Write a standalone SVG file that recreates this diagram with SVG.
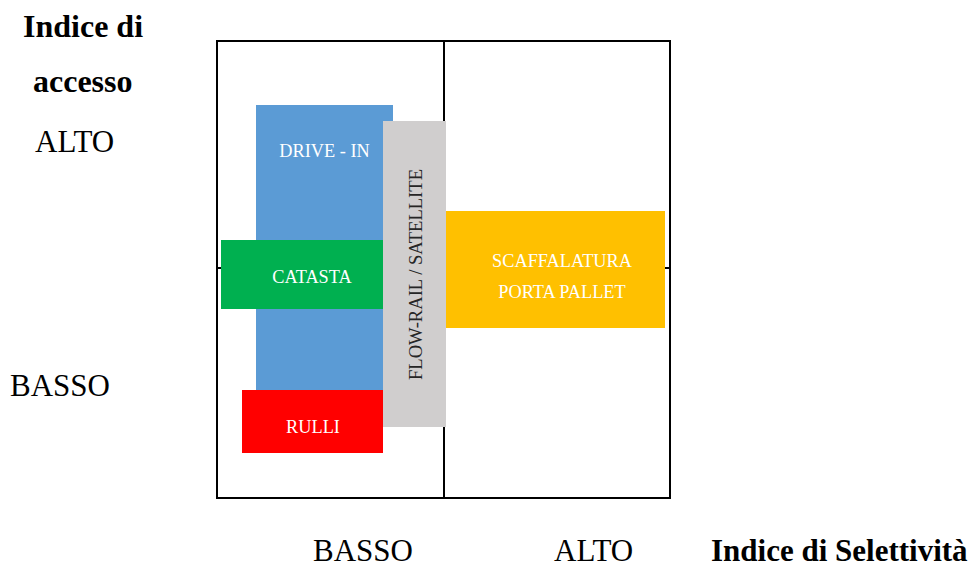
<svg xmlns="http://www.w3.org/2000/svg" width="974" height="568" viewBox="0 0 974 568">
<style>
.ax{stroke:#000;stroke-width:2;fill:none}
.lbl{font-family:"Liberation Serif","Times New Roman",serif;font-size:31px;fill:#000}
.b{font-weight:bold;font-size:32px}
.b2{font-weight:bold;font-size:31px}
.in{font-family:"Liberation Serif","Times New Roman",serif;font-size:18.3px;fill:#fff;text-anchor:middle}
</style>
<rect width="974" height="568" fill="#fff"/>
<g id="connectors">
<rect class="ax" x="217" y="41" width="453" height="457"/>
<line class="ax" x1="444" y1="41" x2="444" y2="498"/>
<line class="ax" x1="217" y1="268" x2="670" y2="268"/>
</g>
<g id="drive-in">
<rect x="256" y="105" width="137" height="285" fill="#5B9BD5"/>
<text class="in" x="324.5" y="157">DRIVE - IN</text>
</g>
<g id="catasta">
<rect x="221" y="240" width="162" height="69" fill="#00B050"/>
<text class="in" x="312" y="283">CATASTA</text>
</g>
<g id="rulli">
<rect x="242" y="390" width="141" height="63" fill="#FF0000"/>
<text class="in" x="313" y="433">RULLI</text>
</g>
<g id="flow-rail">
<rect x="383" y="121" width="63" height="306" fill="#D0CECE"/>
<text x="0" y="0" transform="translate(421.5,274.5) rotate(-90)" font-family="'Liberation Serif','Times New Roman',serif" font-size="18.6" fill="#262626" text-anchor="middle">FLOW-RAIL / SATELLITE</text>
</g>
<g id="scaffalatura">
<rect x="446" y="211" width="219" height="117" fill="#FFC000"/>
<text class="in" x="562" y="267">SCAFFALATURA</text>
<text class="in" x="562" y="298">PORTA PALLET</text>
</g>
<g id="labels">
<text class="lbl b" x="23" y="37">Indice di</text>
<text class="lbl b" x="33" y="92">accesso</text>
<text class="lbl" x="35" y="152">ALTO</text>
<text class="lbl" x="10" y="396">BASSO</text>
<text class="lbl" x="313" y="561">BASSO</text>
<text class="lbl" x="554" y="561">ALTO</text>
<text class="lbl b2" x="711" y="561">Indice di Selettività</text>
</g>
</svg>
